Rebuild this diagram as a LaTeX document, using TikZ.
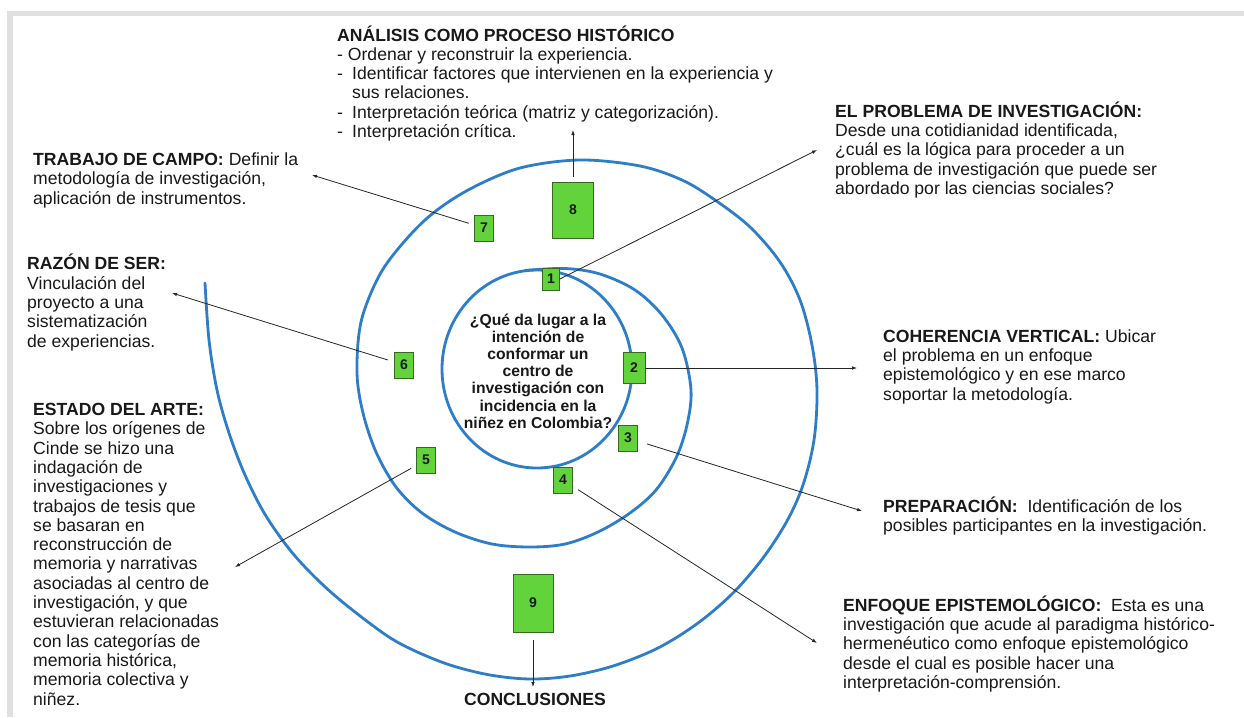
\documentclass[tikz,border=0pt]{standalone}
\usepackage{fontspec}
\setmainfont{Liberation Sans}
\usetikzlibrary{arrows.meta,calc}
\definecolor{spiralblue}{RGB}{46,125,200}
\definecolor{boxgreen}{RGB}{98,211,58}
\definecolor{boxedge}{RGB}{55,105,35}
\definecolor{framegray}{RGB}{224,224,224}
\definecolor{txt}{RGB}{25,25,25}
\begin{document}
\begin{tikzpicture}[x=1pt,y=-1pt,
  numbox/.style={draw=boxedge,fill=boxgreen,line width=0.7pt,inner sep=0pt,
     font=\bfseries\fontsize{14}{14}\selectfont,text=txt},
  sbox/.style={numbox,minimum width=19pt,minimum height=26pt},
  lbl/.style={anchor=base west,align=left,inner sep=0pt,text=txt,
     font=\fontsize{17.6}{19.3}\selectfont},
  conn/.style={draw=black!85,line width=0.8pt,-{Latex[length=5pt,width=3.6pt]}},
  spiral/.style={draw=spiralblue,line width=2.8pt,line cap=round}]
\useasboundingbox (0,0) rectangle (1244,717);
\fill[white] (0,0) rectangle (1244,717);
% frame bands
\fill[framegray] (7,11.5) rectangle (1244,16.5);
\fill[framegray] (7,11.5) rectangle (12.5,717);

% spiral
\draw[spiral] (537,369) ellipse [x radius=95, y radius=99];
\draw[spiral] plot[smooth,tension=0.55] coordinates {
 (525,270.5) (565,268.5) (600,274) (635,290) (662,315) (682,348) (691,390)
 (687,425) (676,458) (656,490) (630,513) (598,532) (565,544) (530,547)
 (492,544) (455,532) (422,513) (396,487) (376,452) (363,413) (357,373)
 (361,322) (379,276) (403,243) (432,214) (470,189) (520,168) (580,160)
 (640,166) (682,180) (715,200) (750,227) (780,262) (800,300) (812,345)
 (817,390) (814,440) (803,485) (787,521) (763,558) (733,593) (698,623)
 (658,648) (613,666) (570,676) (530,679) (490,675) (450,665) (413,650) (383,633)
 (333,594) (295,556) (266,516) (245,475) (229,433) (217,390) (209,340) (205,283)};

% boxes
\node[numbox,minimum width=17pt,minimum height=22pt] (b1) at (551,279) {1};
\node[numbox,minimum width=22pt,minimum height=31pt] (b2) at (634,368) {2};
\node[sbox] (b3) at (628,438) {3};
\node[sbox] (b4) at (563,480) {4};
\node[sbox] (b5) at (426,460) {5};
\node[sbox] (b6) at (404,365) {6};
\node[sbox] (b7) at (484,228) {7};
\node[numbox,minimum width=41pt,minimum height=56pt] (b8) at (573,210) {8};
\node[numbox,minimum width=40pt,minimum height=58pt] (b9) at (533,603) {9};

% centre question (anchored at last baseline)
\node[anchor=base,align=center,inner sep=0pt,text=txt,
  font=\bfseries\fontsize{15.7}{17.2}\selectfont] (q) at (538,428.2)
  {¿Qué da lugar a la\\intención de\\conformar un\\centro de\\investigación con\\incidencia en la\\niñez en Colombia?};

% text blocks (anchored at the baseline of their last line)
\node[lbl] (tA) at (337,137.5) {\textbf{ANÁLISIS COMO PROCESO HISTÓRICO}\\
 - Ordenar y reconstruir la experiencia.\\
 \makebox[15pt][l]{-}Identificar factores que intervienen en la experiencia y\\
 \hspace*{15pt}sus relaciones.\\
 \makebox[15pt][l]{-}Interpretación teórica (matriz y categorización).\\
 \makebox[15pt][l]{-}Interpretación crítica.};
\node[lbl] (tT) at (33,204) {\textbf{TRABAJO DE CAMPO:} Definir la\\metodología de investigación,\\aplicación de instrumentos.};
\node[lbl] (tP) at (835,194.5) {\textbf{EL PROBLEMA DE INVESTIGACIÓN:}\\Desde una cotidianidad identificada,\\¿cuál es la lógica para proceder a un\\problema de investigación que puede ser\\abordado por las ciencias sociales?};
\node[lbl] (tR) at (27,347) {\textbf{RAZÓN DE SER:}\\Vinculación del\\proyecto a una\\sistematización\\de experiencias.};
\node[lbl] (tE) at (33,705) {\textbf{ESTADO DEL ARTE:}\\Sobre los orígenes de\\Cinde se hizo una\\indagación de\\investigaciones y\\trabajos de tesis que\\se basaran en\\reconstrucción de\\memoria y narrativas\\asociadas al centro de\\investigación, y que\\estuvieran relacionadas\\con las categorías de\\memoria histórica,\\memoria colectiva y\\niñez.};
\node[lbl] (tC) at (883,400) {\textbf{COHERENCIA VERTICAL:} Ubicar\\el problema en un enfoque\\epistemológico y en ese marco\\soportar la metodología.};
\node[lbl] (tPr) at (883,531.5) {\textbf{PREPARACIÓN:}\ \ Identificación de los\\posibles participantes en la investigación.};
\node[lbl] (tEn) at (843,688.5) {\textbf{ENFOQUE EPISTEMOLÓGICO:}\ \ Esta es una\\investigación que acude al paradigma histórico-\\hermenéutico como enfoque epistemológico\\desde el cual es posible hacer una\\interpretación-comprensión.};
\node[anchor=base,inner sep=0pt,text=txt,font=\bfseries\fontsize{17.6}{19.3}\selectfont] (tCo) at (535,705) {CONCLUSIONES};

% arrow end points
\coordinate (e1) at (817,150);
\coordinate (e2) at (857,368);
\coordinate (e3) at (862,511);
\coordinate (e4) at (817,643);
\coordinate (e5) at (235,567);
\coordinate (e6) at (172,293);
\coordinate (e7) at (312,175);
\coordinate (e8) at (573,130);
\coordinate (e9) at (533,687);

% connectors
\draw[conn] (b1.east) -- (e1);
\draw[conn] (b2.east) -- (e2);
\draw[conn,shorten <=20pt] (b3.center) -- (e3);
\draw[conn,shorten <=18pt] (b4.center) -- (e4);
\draw[conn,shorten <=17pt] (b5.center) -- (e5);
\draw[conn,shorten <=17pt] (b6.center) -- (e6);
\draw[conn,shorten <=16pt] (b7.center) -- (e7);
\draw[conn,shorten <=5pt] (b8.north) -- (e8);
\draw[conn,shorten <=8pt] (b9.south) -- (e9);
\end{tikzpicture}
\end{document}
